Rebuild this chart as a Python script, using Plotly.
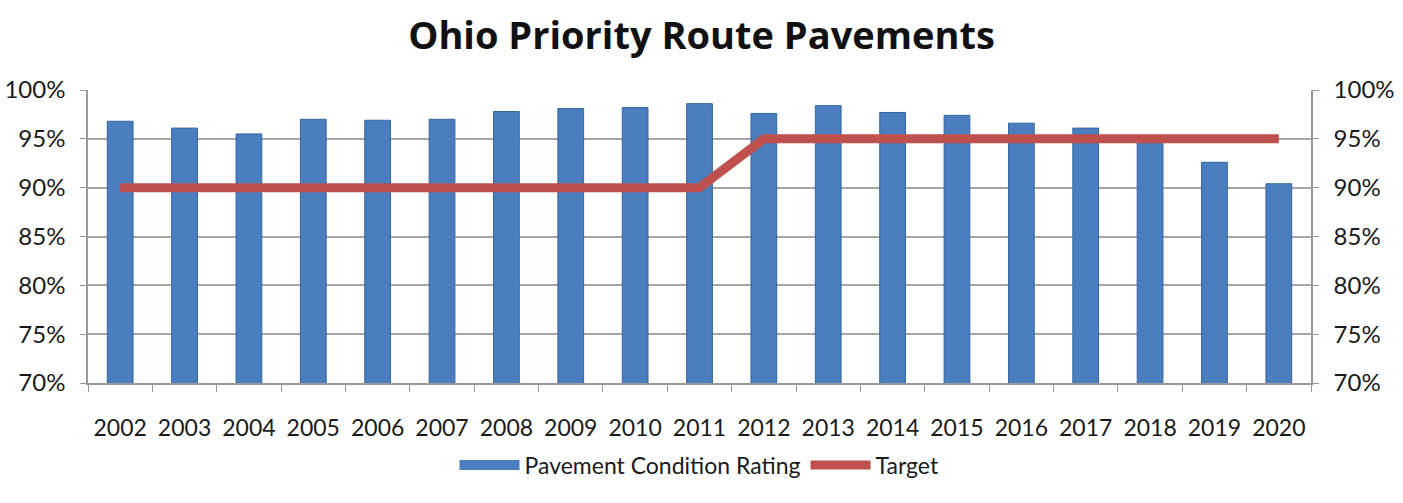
import plotly.graph_objects as go

years = ["2002", "2003", "2004", "2005", "2006", "2007", "2008", "2009", "2010", "2011",
         "2012", "2013", "2014", "2015", "2016", "2017", "2018", "2019", "2020"]
condition = [96.8, 96.1, 95.5, 97.0, 96.9, 97.0, 97.8, 98.1, 98.2, 98.6,
             97.6, 98.4, 97.7, 97.4, 96.6, 96.1, 95.0, 92.6, 90.4]
target = [90, 90, 90, 90, 90, 90, 90, 90, 90, 90,
          95, 95, 95, 95, 95, 95, 95, 95, 95]

tick_vals = [70, 75, 80, 85, 90, 95, 100]
tick_text = ["70%", "75%", "80%", "85%", "90%", "95%", "100%"]

FONT = "Lato"
TITLE_FONT = "Open Sans"
BAR_BLUE = "#4a7ebf"
LINE_RED = "#c0504d"
AXIS_GREY = "#9a9a9a"

fig = go.Figure()
fig.add_trace(go.Bar(
    x=years, y=condition, name="Pavement Condition Rating",
    marker=dict(color=BAR_BLUE, line=dict(color="#35649f", width=1)),
    width=0.4, showlegend=False, legendgroup="pcr",
))
# legend key drawn as a wide flat block, like a bar seen side-on
fig.add_trace(go.Scatter(
    x=[None], y=[None], name="Pavement Condition Rating", mode="lines",
    line=dict(color=BAR_BLUE, width=12), legendgroup="pcr",
))
fig.add_trace(go.Scatter(
    x=years, y=target, name="Target", mode="lines",
    line=dict(color=LINE_RED, width=9),
))
# invisible trace to carry the mirrored right-hand axis
fig.add_trace(go.Scatter(
    x=years, y=target, yaxis="y2", mode="lines",
    line=dict(width=0), showlegend=False, hoverinfo="skip",
))

axis_common = dict(
    range=[70, 100], tickvals=tick_vals, ticktext=tick_text,
    showline=True, linecolor=AXIS_GREY, linewidth=1.5,
    ticks="outside", ticklen=6, tickcolor=AXIS_GREY,
    tickfont=dict(size=24), zeroline=False, ticklabelstandoff=10,
    automargin=False,
)

fig.update_layout(
    width=1403, height=503,
    paper_bgcolor="white", plot_bgcolor="white",
    margin=dict(l=88, r=92, t=90, b=120),
    title=dict(text="<b>Ohio Priority Route Pavements</b>", x=0.5, xanchor="center",
               y=0.93, yanchor="middle",
               font=dict(family=TITLE_FONT, size=38, color="#111111")),
    font=dict(family=FONT, size=23, color="#1a1a1a"),
    xaxis=dict(
        type="category", showgrid=False, showline=True, linecolor=AXIS_GREY,
        linewidth=1.5, ticks="outside", tickson="boundaries", ticklen=7,
        tickcolor=AXIS_GREY, tickfont=dict(size=23), ticklabelstandoff=24,
        tickangle=0, automargin=False,
    ),
    yaxis=dict(showgrid=True, gridcolor="#a6a6a6", gridwidth=1.5, **axis_common),
    yaxis2=dict(overlaying="y", side="right", showgrid=False, **axis_common),
    legend=dict(
        orientation="h", x=0.5, xanchor="center", y=-0.28, yanchor="middle",
        font=dict(size=23), traceorder="normal", itemwidth=60,
    ),
    showlegend=True,
)

fig.write_html("out.html")
